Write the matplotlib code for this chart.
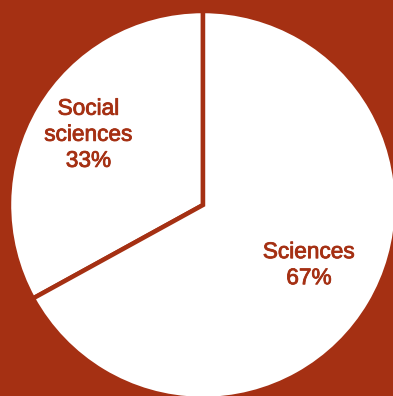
import numpy as np
import matplotlib.pyplot as plt
import matplotlib.patheffects as pe

RUST = '#a53013'

fields = ['Social\nsciences', 'Sciences']
shares = [33, 67]
label_dist = [0.70, 0.62]

fig = plt.figure(figsize=(3.93, 3.96), dpi=100, facecolor=RUST)
ax = fig.add_axes([0, 0, 1, 1])
ax.set_facecolor(RUST)

wedges, _ = ax.pie(shares, startangle=90, counterclock=True,
                   colors=['white', 'white'],
                   wedgeprops=dict(edgecolor=RUST, linewidth=3.2))

# labels sit on each wedge's middle angle
for w, name, pct, d in zip(wedges, fields, shares, label_dist):
    mid = np.deg2rad((w.theta1 + w.theta2) / 2)
    ax.text(d * np.cos(mid) + 0.012, d * np.sin(mid) + 0.008, f'{name}\n{pct}%',
            ha='center', va='center', color=RUST, fontsize=16.3,
            family='Liberation Sans', linespacing=1.17,
            path_effects=[pe.withStroke(linewidth=0.6, foreground=RUST)])

# pie is 194 px in radius, centre at (203, 205) px from top-left
s = 194
ax.set_aspect('auto')
ax.set_xlim(-203 / s, (393 - 203) / s)
ax.set_ylim(-(396 - 205) / s, 205 / s)
ax.axis('off')

fig.savefig('out.png', dpi=100, facecolor=RUST)
